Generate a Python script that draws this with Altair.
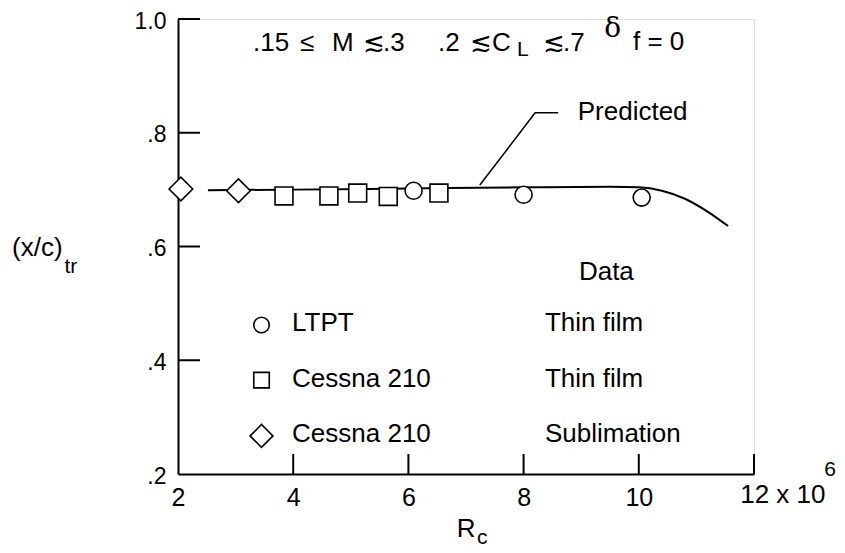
import altair as alt
import pandas as pd

# ---- data ----
ltpt_x = [6.09, 8.00, 10.05]
ltpt_y = [0.698, 0.691, 0.686]

cessna_tf_x = [3.84, 4.62, 5.12, 5.65, 6.53]
cessna_tf_y = [0.689, 0.689, 0.694, 0.688, 0.694]

cessna_sub_x = [2.05, 3.05]
cessna_sub_y = [0.701, 0.698]

pred_x = [2.52, 4.0, 6.0, 8.0, 9.5, 10.0, 10.4, 10.8, 11.2, 11.55]
pred_y = [0.699, 0.700, 0.702, 0.704, 0.705, 0.704, 0.698, 0.684, 0.661, 0.636]

y_ticks = [0.4, 0.6, 0.8, 1.0]
x_ticks = [4, 6, 8, 10, 12]

# annotation texts (left aligned) with their data-space anchors
ann_text = [".15", "≤", "M", "≲", ".3", ".2", "≲", "C", "≲", ".7", "f = 0",
            "Predicted", "Data", "LTPT", "Cessna 210", "Cessna 210",
            "Thin film", "Thin film", "Sublimation",
            "(x/c)", "R", "12 x 10"]
ann_x = [3.302, 4.118, 4.674, 5.212, 5.559, 6.514, 7.069, 7.451, 8.337, 8.684, 9.899,
         8.94, 8.96, 3.98, 3.98, 3.98,
         8.37, 8.37, 8.37,
         -0.88, 6.84, 11.76]
ann_y = [0.958, 0.958, 0.958, 0.958, 0.958, 0.958, 0.958, 0.958, 0.958, 0.958, 0.960,
         0.836, 0.555, 0.466, 0.367, 0.270,
         0.466, 0.367, 0.270,
         0.597, 0.103, 0.163]

# subscripts / superscript
sub_text = ["L", "tr", "c", "6"]
sub_x = [7.885, 0.03, 7.19, 13.22]
sub_y = [0.945, 0.564, 0.088, 0.207]

delta_text = ["δ"]
delta_x = [9.40]
delta_y = [0.983]

leader_x = [7.24, 8.20, 8.60]
leader_y = [0.708, 0.835, 0.835]

legend_shape = ["circle", "square", "diamond"]
legend_x = [3.45, 3.45, 3.45]
legend_y = [0.462, 0.365, 0.267]

FONT = "Liberation Sans"
xs = alt.Scale(domain=[2, 12], nice=False, zero=False)
ys = alt.Scale(domain=[0.2, 1.0], nice=False, zero=False)

W, H = 576, 455

base_x_axis = alt.Axis(values=[2, 4, 6, 8, 10], format="d", ticks=False, grid=False, domainColor="black",
                       domainWidth=2, labelFont=FONT, labelFontSize=25, labelColor="black",
                       labelPadding=11, title=None, labelFlush=False)
base_y_axis = alt.Axis(values=[0.2, 0.4, 0.6, 0.8, 1.0], ticks=False, grid=False, domainColor="black",
                       domainWidth=2, labelFont=FONT, labelFontSize=23, labelColor="black",
                       labelPadding=12, labelOffset=2,
                       labelExpr="datum.value == 1 ? '1.0' : replace(format(datum.value, '.1f'), '0.', '.')",
                       title=None, labelFlush=False)

pred_df = pd.DataFrame({"x": pred_x, "y": pred_y})
line = alt.Chart(pred_df).mark_line(color="black", strokeWidth=2, interpolate="monotone").encode(
    x=alt.X("x:Q", scale=xs, axis=base_x_axis),
    y=alt.Y("y:Q", scale=ys, axis=base_y_axis),
)

lead_df = pd.DataFrame({"x": leader_x, "y": leader_y, "o": [0, 1, 2]})
leader = alt.Chart(lead_df).mark_line(color="black", strokeWidth=1.5).encode(
    x=alt.X("x:Q", scale=xs), y=alt.Y("y:Q", scale=ys), order="o:O")

ytick_df = pd.DataFrame({"v": y_ticks})
yticks = alt.Chart(ytick_df).mark_rule(color="black", strokeWidth=2).encode(
    x=alt.value(0), x2=alt.value(22), y=alt.Y("v:Q", scale=ys))

xtick_df = pd.DataFrame({"v": x_ticks})
xticks = alt.Chart(xtick_df).mark_rule(color="black", strokeWidth=2).encode(
    x=alt.X("v:Q", scale=xs), y=alt.value(H), y2=alt.value(H - 20))


def pts(xv, yv, shape, size):
    df = pd.DataFrame({"x": xv, "y": yv})
    return alt.Chart(df).mark_point(shape=shape, size=size, filled=True, fill="white",
                                    stroke="black", strokeWidth=1.6, opacity=1).encode(
        x=alt.X("x:Q", scale=xs), y=alt.Y("y:Q", scale=ys))


p_ltpt = pts(ltpt_x, ltpt_y, "circle", 290)
p_tf = pts(cessna_tf_x, cessna_tf_y, "square", 320)
p_sub = pts(cessna_sub_x, cessna_sub_y, "diamond", 560)

leg_layers = [pts([lx], [ly], s, sz) for lx, ly, s, sz in
              zip(legend_x, legend_y, legend_shape, [240, 240, 520])]


def texts(tv, xv, yv, font, size):
    df = pd.DataFrame({"t": tv, "x": xv, "y": yv})
    return alt.Chart(df).mark_text(align="left", baseline="middle", font=font, fontSize=size,
                                   color="black").encode(
        x=alt.X("x:Q", scale=xs), y=alt.Y("y:Q", scale=ys), text="t:N")


ann = texts(ann_text, ann_x, ann_y, FONT, 26)
subs = texts(sub_text, sub_x, sub_y, FONT, 21)
delta = texts(delta_text, delta_x, delta_y, "DejaVu Serif", 28)

chart = alt.layer(line, leader, yticks, xticks, p_tf, p_sub, p_ltpt, *leg_layers, ann, subs, delta).properties(
    width=W, height=H,
    autosize=alt.AutoSizeParams(type="none"),
    padding={"left": 170, "top": 11, "right": 83, "bottom": 78},
).configure_view(stroke=None).configure(background="white")

chart.save("out.html", embed_options={"renderer": "svg", "actions": False})
